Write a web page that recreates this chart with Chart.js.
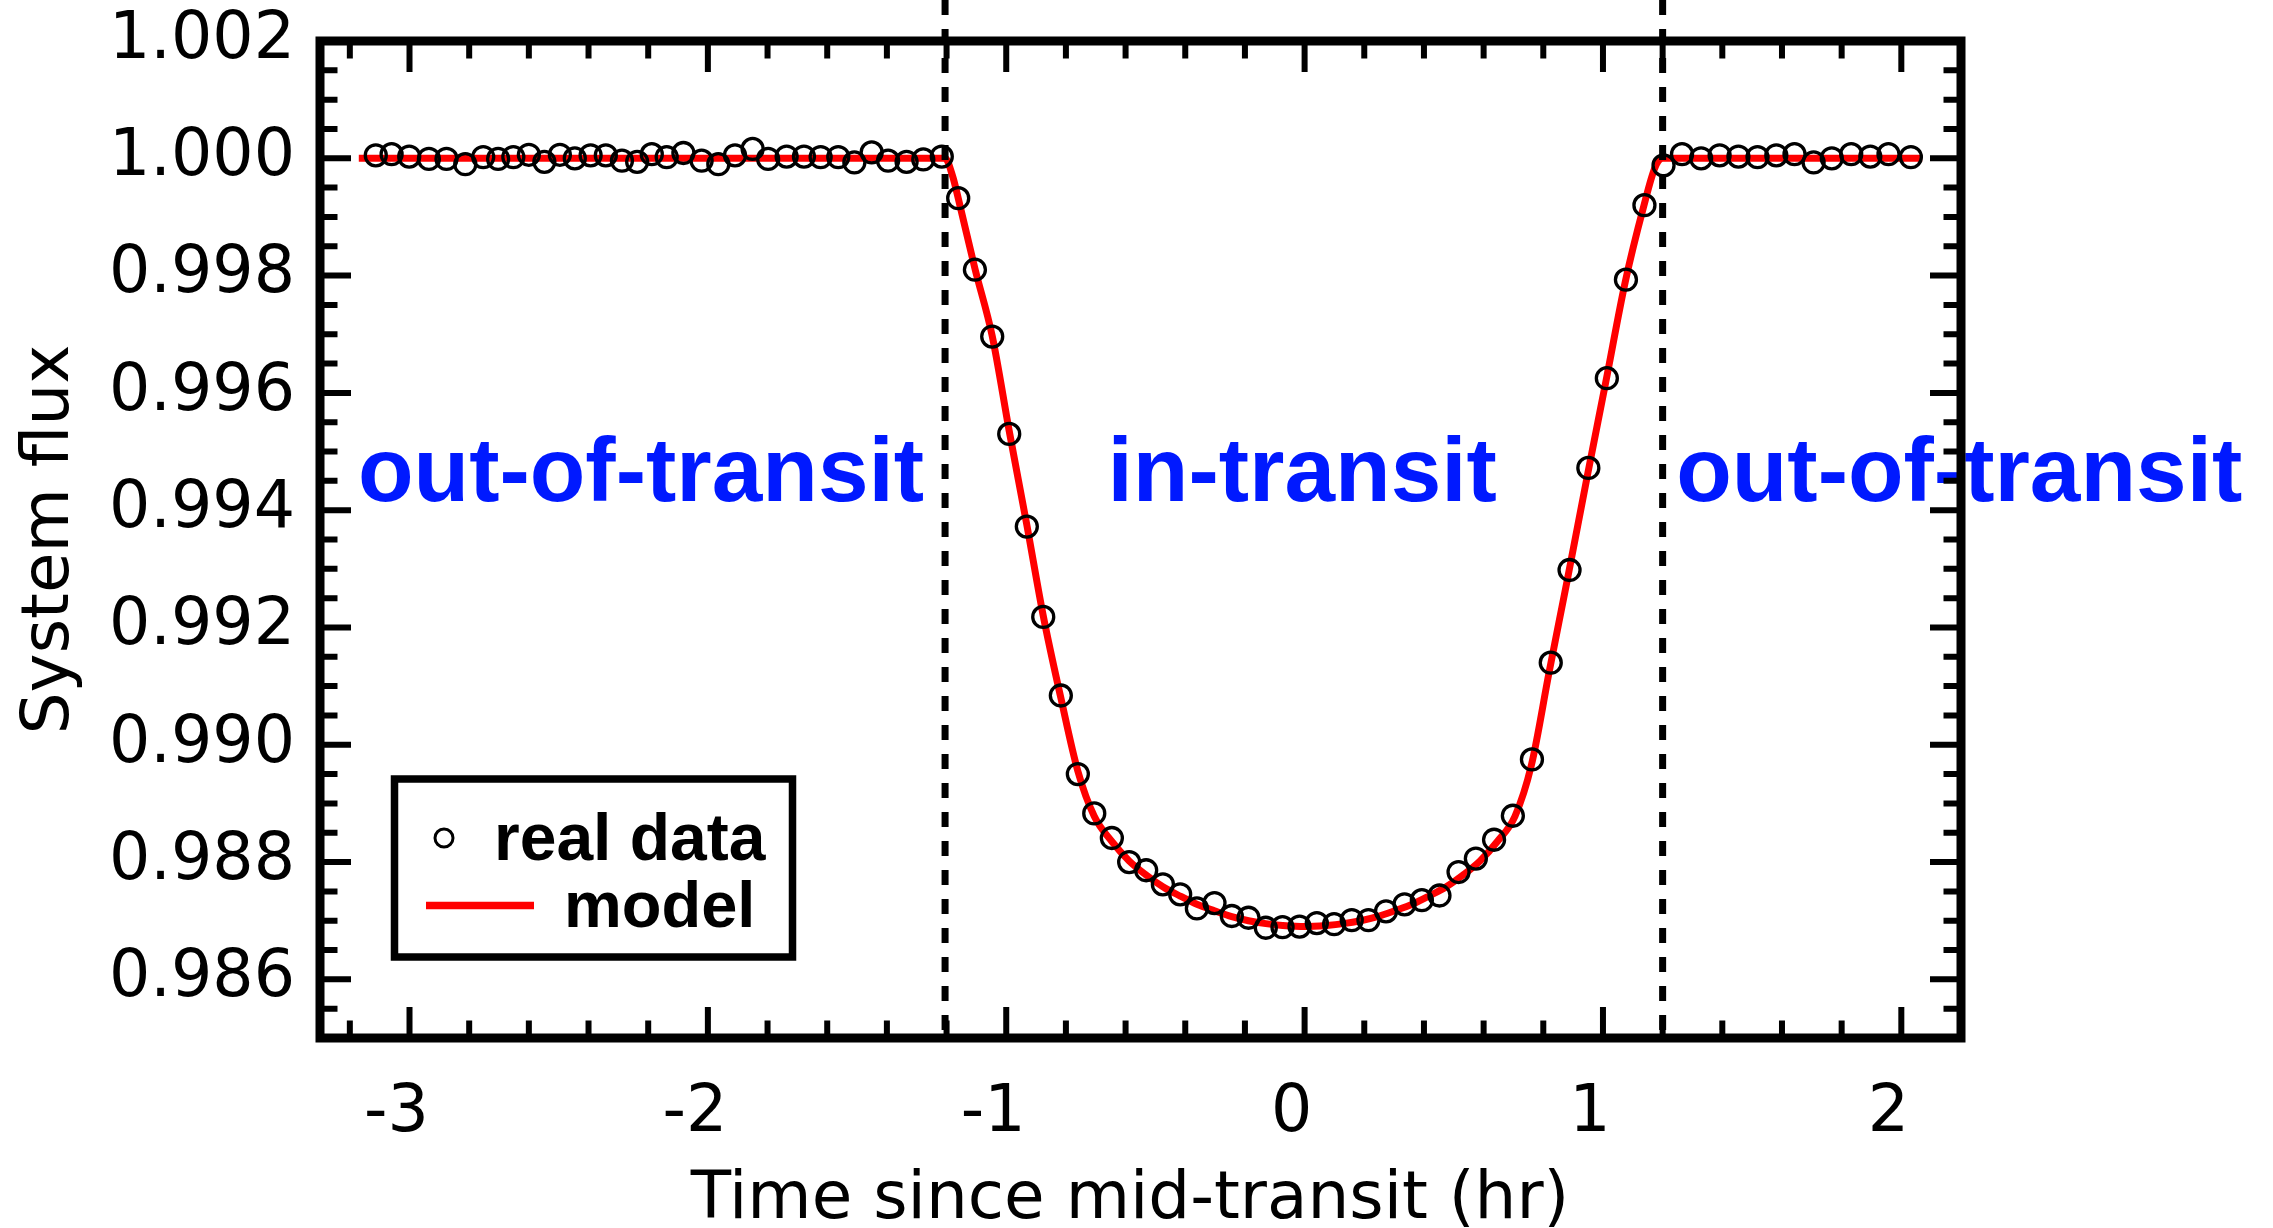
<html>

<head>
  <meta charset="utf-8">
  <title>Transit light curve</title>
  <style>
    html,
    body {
      padding: 0;
      margin: 0;
      background: #fff;
    }

    #chartBox {
      width: 2273px;
      height: 1228px;
    }
  </style>
  <script src="https://cdn.jsdelivr.net/npm/chart.js@4.4.0/dist/chart.umd.min.js"></script>
</head>

<body>
  <div id="chartBox"><canvas id="chart" width="2273" height="1228"></canvas></div>

  <script>
    // tick labels
    var xTicks = [-3, -2, -1, 0, 1, 2];
    var yTicks = [0.986, 0.988, 0.990, 0.992, 0.994, 0.996, 0.998, 1.000, 1.002];

    // binned light curve (hours from mid-transit, normalised flux)
    var timeHr = [
      -3.113, -3.060, -3.001, -2.935, -2.876, -2.813, -2.753, -2.703, -2.652, -2.600,
      -2.548, -2.496, -2.446, -2.393, -2.342, -2.288, -2.237, -2.188, -2.138, -2.082,
      -2.021, -1.965, -1.909, -1.850, -1.798, -1.736, -1.678, -1.622, -1.563, -1.509,
      -1.451, -1.396, -1.334, -1.278, -1.216,
      -1.161, -1.105, -1.047, -0.990, -0.931, -0.876, -0.817, -0.760, -0.705, -0.646,
      -0.588, -0.531, -0.475, -0.417, -0.361, -0.302, -0.244, -0.188, -0.130, -0.074,
      -0.017, 0.041, 0.099, 0.158, 0.214, 0.273, 0.335, 0.393, 0.452, 0.516,
      0.574, 0.635, 0.698, 0.762, 0.825, 0.888, 0.951, 1.013, 1.077, 1.139,
      1.203, 1.265, 1.329, 1.391, 1.454, 1.518, 1.581, 1.642, 1.706, 1.767,
      1.832, 1.896, 1.957, 2.032
    ];
    var flux = [
      1.00005, 1.00007, 1.00003, 0.99999, 0.99999, 0.99990, 1.00002, 0.99999, 1.00002, 1.00006,
      0.99994, 1.00006, 1.00000, 1.00005, 1.00005, 0.99996, 0.99994, 1.00007, 1.00002, 1.00009,
      0.99996, 0.99990, 1.00005, 1.00016, 0.99999, 1.00003, 1.00003, 1.00002, 1.00002, 0.99993,
      1.00010, 0.99996, 0.99994, 0.99998, 1.00003,
      0.99932, 0.99810, 0.99696, 0.99530, 0.99372, 0.99218, 0.99084, 0.98950, 0.98883, 0.98841,
      0.98800, 0.98786, 0.98762, 0.98745, 0.98721, 0.98730, 0.98708, 0.98705, 0.98688, 0.98689,
      0.98690, 0.98696, 0.98694, 0.98701, 0.98701, 0.98716, 0.98728, 0.98735, 0.98743, 0.98783,
      0.98806, 0.98838, 0.98879, 0.98975, 0.99140, 0.99298, 0.99472, 0.99625, 0.99793, 0.99920,
      0.99988, 1.00007, 1.00000, 1.00005, 1.00003, 1.00002, 1.00005, 1.00007, 0.99993, 1.00000,
      1.00007, 1.00003, 1.00007, 1.00002
    ];

    // fitted model
    var modelTime = [
      -3.17, -1.205, -1.18, -1.16, -1.105, -1.047, -0.99, -0.931, -0.876, -0.817,
      -0.76, -0.705, -0.646, -0.588, -0.531, -0.475, -0.417, -0.361, -0.302, -0.244,
      -0.188, -0.13, -0.074, 0, 0.074, 0.13, 0.188, 0.244, 0.302, 0.361,
      0.417, 0.475, 0.531, 0.588, 0.646, 0.705, 0.76, 0.82, 0.88, 0.95,
      1.01, 1.075, 1.135, 1.175, 1.2, 2.07
    ];
    var modelFlux = [
      1, 1, 0.99970, 0.99930, 0.99812, 0.99697, 0.99535, 0.99375, 0.99220, 0.99080,
      0.98955, 0.98878, 0.98835, 0.98802, 0.98778, 0.98758, 0.98742, 0.98728, 0.98717, 0.98707,
      0.98700, 0.98695, 0.98692, 0.98690, 0.98692, 0.98695, 0.98700, 0.98707, 0.98717, 0.98728,
      0.98742, 0.98758, 0.98778, 0.98802, 0.98835, 0.98878, 0.98965, 0.99125, 0.99280, 0.99465,
      0.99620, 0.99790, 0.99915, 0.99985, 1, 1
    ];

    // first and last contact
    var contactTimes = [-1.205, 1.2];
    var regionLabels = ['out-of-transit', 'in-transit', 'out-of-transit'];

    var FONT_AXIS = 'DejaVu Sans';
    var FONT_BOLD = '"Liberation Sans", Arial, Helvetica, sans-serif';

    function noPadding(s) {
      s.paddingTop = 0;
      s.paddingBottom = 0;
      s.paddingLeft = 0;
      s.paddingRight = 0;
    }

    // annotations, dashed contact lines, framed box with inward ticks, legend
    var framePlugin = {
      id: 'frame',
      afterDatasetsDraw: function (chart) {
        var ctx = chart.ctx, a = chart.chartArea;
        var x = chart.scales.x, y = chart.scales.y;
        var k, px, py, major, len;
        ctx.save();

        // region labels (centres in data units)
        var labelAt = [-2.224, -0.008, 2.194];
        ctx.fillStyle = 'rgb(0,25,255)';
        ctx.font = 'bold 91px ' + FONT_BOLD;
        ctx.textAlign = 'center';
        ctx.textBaseline = 'alphabetic';
        for (k = 0; k < regionLabels.length; k++) {
          ctx.fillText(regionLabels[k], x.getPixelForValue(labelAt[k]), y.getPixelForValue(0.99415));
        }

        // contact lines
        ctx.strokeStyle = '#000';
        ctx.lineWidth = 7;
        ctx.setLineDash([15, 14]);
        contactTimes.forEach(function (t) {
          var cx = x.getPixelForValue(t);
          ctx.beginPath();
          ctx.moveTo(cx, 0);
          ctx.lineTo(cx, a.bottom);
          ctx.stroke();
        });
        ctx.setLineDash([]);

        // ticks, pointing inward on all four sides
        ctx.lineWidth = 6;
        ctx.beginPath();
        for (k = -16; k <= 11; k++) {
          px = x.getPixelForValue(k * 0.2);
          major = (k % 5 === 0);
          len = major ? 31 : 17.5;
          ctx.moveTo(px, a.top); ctx.lineTo(px, a.top + len);
          ctx.moveTo(px, a.bottom); ctx.lineTo(px, a.bottom - len);
        }
        for (k = 1970; k <= 2004; k++) {
          py = y.getPixelForValue(k * 0.0005);
          major = (k % 4 === 0);
          len = major ? 31 : 17.5;
          ctx.moveTo(a.left, py); ctx.lineTo(a.left + len, py);
          ctx.moveTo(a.right, py); ctx.lineTo(a.right - len, py);
        }
        ctx.stroke();

        // frame
        ctx.lineWidth = 9;
        ctx.strokeRect(a.left, a.top, a.right - a.left, a.bottom - a.top);

        // legend
        ctx.fillStyle = '#fff';
        ctx.fillRect(394.5, 779, 398, 178);
        ctx.lineWidth = 7.5;
        ctx.strokeStyle = '#000';
        ctx.strokeRect(394.5, 779, 398, 178);

        ctx.lineWidth = 3;
        ctx.beginPath();
        ctx.arc(444, 838, 9, 0, Math.PI * 2);
        ctx.stroke();

        ctx.strokeStyle = '#ff0000';
        ctx.lineWidth = 7.5;
        ctx.beginPath();
        ctx.moveTo(426, 905.5);
        ctx.lineTo(534, 905.5);
        ctx.stroke();

        ctx.fillStyle = '#000';
        ctx.textAlign = 'left';
        ctx.font = 'bold 66px ' + FONT_BOLD;
        ctx.fillText('real data', 494, 860);
        ctx.font = 'bold 65px ' + FONT_BOLD;
        ctx.fillText('model', 564, 927);

        ctx.restore();
      }
    };

    var points = timeHr.map(function (t, i) { return { x: t, y: flux[i] }; });
    var model = modelTime.map(function (t, i) { return { x: t, y: modelFlux[i] }; });

    var ctx = document.getElementById('chart').getContext('2d');
    var chart = new Chart(ctx, {
      type: 'scatter',
      data: {
        datasets: [{
          label: 'real data',
          data: points,
          showLine: false,
          pointStyle: 'circle',
          pointRadius: 10.5,
          pointBorderWidth: 3.3,
          pointBorderColor: '#000',
          pointBackgroundColor: 'rgba(0,0,0,0)',
          clip: false
        },
        {
          label: 'model',
          data: model,
          showLine: true,
          pointRadius: 0,
          borderColor: '#ff0000',
          borderWidth: 7,
          cubicInterpolationMode: 'monotone',
          clip: false
        }]
      },
      options: {
        responsive: false,
        animation: false,
        events: [],
        layout: {
          autoPadding: false,
          padding: { top: 41, right: 312, bottom: 0, left: 0 }
        },
        plugins: {
          legend: { display: false },
          tooltip: { enabled: false }
        },
        scales: {
          x: {
            type: 'linear',
            min: -3.3,
            max: 2.2,
            grid: { display: false },
            border: { display: false },
            afterBuildTicks: function (s) { s.ticks = xTicks.map(function (v) { return { value: v }; }); },
            afterFit: function (s) { s.height = 190; noPadding(s); },
            ticks: {
              autoSkip: false,
              maxRotation: 0,
              padding: 29,
              labelOffset: -13,
              color: '#000',
              font: { family: FONT_AXIS, size: 65 }
            },
            title: {
              display: true,
              text: 'Time since mid-transit (hr) ',
              color: '#000',
              padding: { top: 0, bottom: -6 },
              font: { family: FONT_AXIS, size: 66, lineHeight: 1 }
            }
          },
          y: {
            type: 'linear',
            min: 0.985,
            max: 1.002,
            grid: { display: false },
            border: { display: false },
            afterBuildTicks: function (s) { s.ticks = yTicks.map(function (v) { return { value: v }; }); },
            afterFit: function (s) { s.width = 320; noPadding(s); },
            ticks: {
              padding: 17,
              color: '#000',
              font: { family: FONT_AXIS, size: 65 },
              callback: function (v) { return v.toFixed(3); }
            },
            title: {
              display: true,
              text: 'System flux',
              color: '#000',
              padding: { top: 18, bottom: 0 },
              font: { family: FONT_AXIS, size: 66, lineHeight: 1 }
            }
          }
        }
      },
      plugins: [framePlugin]
    });
  </script>
</body>

</html>
